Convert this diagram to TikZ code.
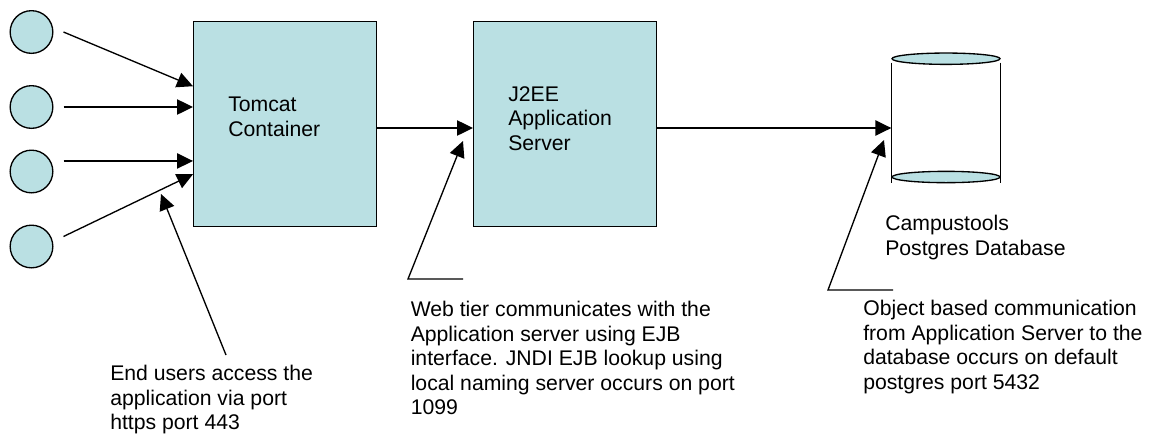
\documentclass[tikz,border=0pt]{standalone}
\usepackage{fontspec}
\setmainfont{Liberation Sans}
\usetikzlibrary{positioning,calc,shapes.geometric,arrows.meta}
\definecolor{BoxBlue}{RGB}{186,224,227}
\tikzset{
    usernode/.style={circle, draw=black, fill=BoxBlue, line width=1pt, minimum size=32pt, inner sep=0pt},
    servernode/.style={rectangle, draw=black, fill=BoxBlue, line width=1.1pt, minimum width=137.25pt, minimum height=153.75pt, inner sep=0pt, anchor=north west},
    dbcap/.style={ellipse, draw=black, fill=BoxBlue, line width=1pt, minimum width=81pt, minimum height=8.5pt, inner sep=0pt},
    textnote/.style={anchor=north west, align=left, inner sep=0pt, text=black, font=\fontsize{15.9pt}{18.4pt}\selectfont},
    link/.style={draw=black, line width=1pt, -{Triangle[length=12pt,width=11.5pt]}},
    leader/.style={draw=black, line width=1pt}
}
\begin{document}
\begin{tikzpicture}[x=0.75pt, y=-0.75pt]
    \useasboundingbox (0,0) rectangle (1149,433);

    % --- USERS ---
    \node[usernode] (user1) at (31.5,32) {};
    \node[usernode] (user2) at (31.5,107) {};
    \node[usernode] (user3) at (31.5,171.5) {};
    \node[usernode] (user4) at (31.5,246.5) {};

    % --- SERVERS ---
    \node[servernode] (tomcat) at (193,21) {};
    \node[servernode] (j2ee) at (473,21) {};

    % --- DATABASE ---
    \node[dbcap] (dbtop) at (946,58.7) {};
    \node[dbcap] (dbbottom) at (946,177) {};
    \draw[leader] ([yshift=-3pt]dbtop.west) -- ([yshift=-4.5pt]dbbottom.west);
    \draw[leader] ([yshift=-3pt]dbtop.east) -- ([yshift=-4.5pt]dbbottom.east);

    % --- TEXTS ---
    \node[textnote] (tomcatlabel) at (228,97) {Tomcat\\Container};
    \node[textnote] (j2eelabel) at (508,86) {J2EE\\Application\\Server};
    \node[textnote] (dblabel) at (885,215) {Campustools\\Postgres Database};
    \node[textnote] (usernote) at (110,365) {End users access the\\application via port\\https port 443};
    \node[textnote] (webnote) at (410.5,301) {Web tier communicates with the\\Application server using EJB\\interface. JNDI EJB lookup using\\local naming server occurs on port\\1099};
    \node[textnote] (dbnote) at (863,300) {Object based communication\\from Application Server to the\\database occurs on default\\postgres port 5432};

    % --- LEADER ENDS ---
    \coordinate (usertail) at (226,355);
    \coordinate (usertip) at (161,194);
    \coordinate (webelbow) at (408,279);
    \coordinate (webend) at (463,279);
    \coordinate (webtip) at (463,141);
    \coordinate (dbelbow) at (828,290);
    \coordinate (dbend) at (893,290);
    \coordinate (dbtip) at (884,140);

    % --- ARROWS ---
    \draw[link] ([xshift=7.5pt]user1.east) -- ([yshift=28.5pt]tomcat.west);
    \draw[link] ([xshift=7.5pt]user2.east) -- (tomcat.west |- user2);
    \draw[link] ([xshift=7.5pt,yshift=7.9pt]user3.east) -- ([yshift=7.9pt]tomcat.west |- user3);
    \draw[link] ([xshift=7.5pt,yshift=7.5pt]user4.east) -- ([yshift=-37.5pt]tomcat.west);
    \draw[link] (tomcat.east |- 0,128) -- (j2ee.west |- 0,128);
    \draw[link] (j2ee.east |- 0,128) -- (dbtop.west |- 0,128);

    \draw[link] (usertail) -- (usertip);
    \draw[link] (webend) -- (webelbow) -- (webtip);
    \draw[link] (dbend) -- (dbelbow) -- (dbtip);

\end{tikzpicture}
\end{document}
